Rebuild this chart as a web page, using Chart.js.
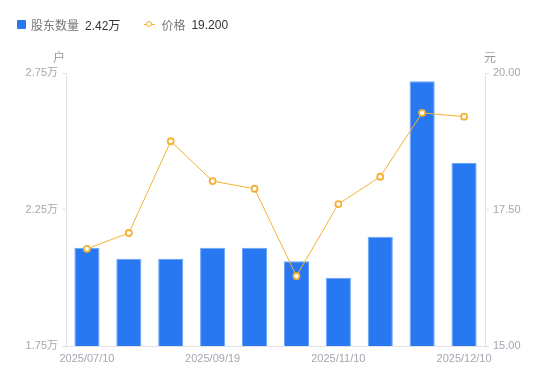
<!DOCTYPE html>
<html>
<head>
<meta charset="utf-8">
<script src="https://cdn.jsdelivr.net/npm/chart.js@4"></script>
<style>
  html, body { margin: 0; padding: 0; background: #fff; }
  body { width: 550px; height: 381px; position: relative; overflow: hidden;
         font-family: "Liberation Sans", "Noto Sans CJK SC", sans-serif; }
  #wrap { position: absolute; left: 0; top: 0; width: 550px; height: 381px; }
  .legend { position: absolute; top: 16px; left: 17px; font-size: 12px; display: flex; align-items: center; }
  .legend .item { display: flex; align-items: center; margin-right: 24px; }
  .legend .name { color: #777; margin-right: 6px; }
  .legend .val { color: #333; }
  .sq { width: 9px; height: 9px; background: #2878f2; border-radius: 1px; margin-right: 5px; }
  .ln { position: relative; width: 11px; height: 9px; margin-right: 6px; }
  .ln::before { content: ''; position: absolute; left: 0; right: 0; top: 4px; height: 1px; background: #f5b134; }
  .ln::after { content: ''; position: absolute; left: 2px; top: 1px; width: 4px; height: 4px; border: 1.5px solid #f5b134; border-radius: 50%; background: #fff; }
</style>
</head>
<body>
<div id="wrap"><canvas id="chart" width="550" height="381"></canvas></div>
<div class="legend">
  <div class="item"><span class="sq"></span><span class="name">股东数量</span><span class="val" id="lgHolders"></span></div>
  <div class="item"><span class="ln"></span><span class="name">价格</span><span class="val" id="lgPrice"></span></div>
</div>
<script>
// 股东数量（万户）与价格（元）
const dates = ['2025/07/10', '2025/07/31', '2025/08/29', '2025/09/19', '2025/09/30',
               '2025/10/20', '2025/11/10', '2025/11/20', '2025/11/30', '2025/12/10'];
const holders = [2.11, 2.07, 2.07, 2.11, 2.11, 2.06, 2.00, 2.15, 2.72, 2.42];
const prices = [16.78, 17.07, 18.75, 18.02, 17.88, 16.28, 17.60, 18.10, 19.27, 19.20];
const shownTicks = [0, 3, 6, 9];

document.getElementById('lgHolders').textContent = holders[holders.length - 1].toFixed(2) + '万';
document.getElementById('lgPrice').textContent = prices[prices.length - 1].toFixed(3);

const FONT = '"Liberation Sans", "Noto Sans CJK SC", sans-serif';
const AXIS = '#e3e3e6';
const TICK = '#a5a7b0';

// 轴上方的单位
const unitTitles = {
  id: 'unitTitles',
  afterDraw(chart) {
    const { ctx, chartArea } = chart;
    ctx.save();
    ctx.font = '12px ' + FONT;
    ctx.fillStyle = '#999';
    ctx.textBaseline = 'middle';
    ctx.textAlign = 'center';
    ctx.fillText('户', chartArea.left - 7, chartArea.top - 14);
    ctx.fillText('元', chartArea.right + 5, chartArea.top - 14);
    ctx.restore();
  }
};

new Chart(document.getElementById('chart'), {
  data: {
    labels: dates,
    datasets: [
      {
        type: 'line',
        label: '价格',
        data: prices,
        yAxisID: 'yPrice',
        borderColor: '#f5b134',
        borderWidth: 1,
        pointRadius: 3,
        pointBorderWidth: 1.8,
        pointBackgroundColor: '#fff',
        pointBorderColor: '#f5b134',
        tension: 0,
        order: 0
      },
      {
        type: 'bar',
        label: '股东数量',
        data: holders,
        yAxisID: 'yHolders',
        backgroundColor: '#2878f2',
        borderColor: '#6aa4f7',
        borderWidth: { top: 1, left: 1, right: 1, bottom: 0 },
        barPercentage: 0.6,
        categoryPercentage: 1,
        order: 1
      }
    ]
  },
  options: {
    responsive: false,
    animation: false,
    layout: { padding: { top: 73, left: 0, right: 0, bottom: 0 } },
    plugins: { legend: { display: false }, tooltip: { enabled: false } },
    scales: {
      x: {
        grid: { display: false, drawTicks: false },
        border: { display: true, color: AXIS },
        ticks: {
          autoSkip: false, maxRotation: 0, padding: 6,
          color: TICK, font: { family: FONT, size: 11 },
          callback: (v, i) => shownTicks.includes(i) ? dates[i] : ''
        },
        afterFit: s => { s.height = 35; }
      },
      yHolders: {
        position: 'left',
        min: 1.75, max: 2.75,
        grid: { drawOnChartArea: false, color: AXIS, tickLength: 4 },
        border: { color: AXIS },
        ticks: {
          stepSize: 0.5, padding: 4,
          color: TICK, font: { family: FONT, size: 11 },
          callback: v => v.toFixed(2) + '万'
        },
        afterFit: s => { s.width = 66; }
      },
      yPrice: {
        position: 'right',
        min: 15, max: 20,
        grid: { drawOnChartArea: false, color: AXIS, tickLength: 4 },
        border: { color: AXIS },
        ticks: {
          stepSize: 2.5, padding: 4,
          color: TICK, font: { family: FONT, size: 11 },
          callback: v => v.toFixed(2)
        },
        afterFit: s => { s.width = 65; }
      }
    }
  },
  plugins: [unitTitles]
});
</script>
</body>
</html>
